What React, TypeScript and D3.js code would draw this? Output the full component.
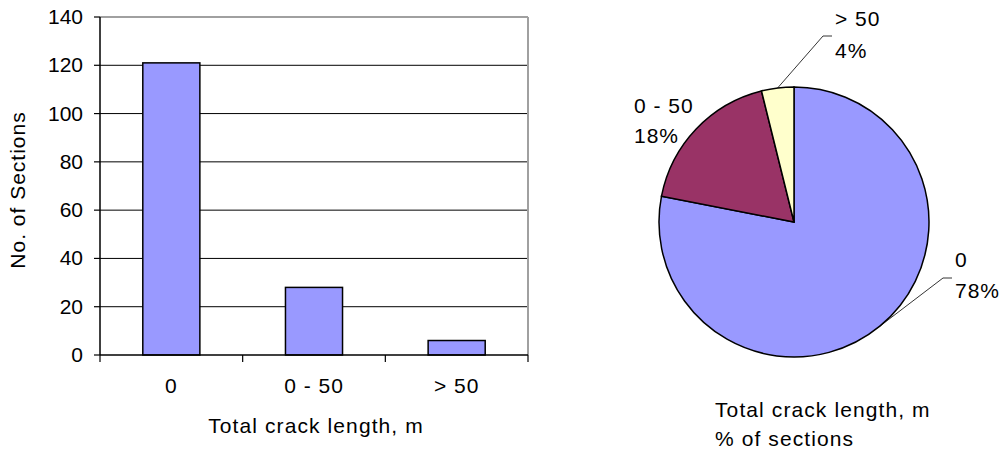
import React from 'react';
import * as d3 from 'd3';

const categories = ['0', '0 - 50', '> 50'];
const sectionCounts = [121, 28, 6];
const yTickValues = [0, 20, 40, 60, 80, 100, 120, 140];
const pieColors = ['#9999FF', '#993366', '#FFFFCC'];
const barColor = '#9999FF';
const xAxisTitle = 'Total crack length, m';
const yAxisTitle = 'No. of Sections';
const pieTitleLines = ['Total crack length, m', '% of sections'];

const FONT = '"Liberation Sans", Arial, Helvetica, sans-serif';
const FS = 21;

// layout
const plot = { left: 100, right: 528, top: 17, bottom: 355 };
const pieCenter = { x: 794, y: 222 };
const pieR = 135;
// label placement per slice (layout only): elbow point and text anchor
const pieLabelLayout = [
  { leader: true, elbow: [943, 278], end: [952, 278], tx: 955, ty1: 267, ty2: 298 },
  { leader: false, elbow: [0, 0], end: [0, 0], tx: 634, ty1: 113, ty2: 143 },
  { leader: true, elbow: [823, 36], end: [832, 36], tx: 835, ty1: 26, ty2: 58 },
];

export default function App() {
  const x = d3.scaleBand<string>().domain(categories).range([plot.left, plot.right]).padding(0);
  const y = d3.scaleLinear().domain([0, 140]).range([plot.bottom, plot.top]);
  const bw = x.bandwidth() * 0.4;

  const total = d3.sum(sectionCounts);
  const pie = d3.pie<number>().sort(null).startAngle(0).endAngle(2 * Math.PI)(sectionCounts);
  const arc = d3.arc<d3.PieArcDatum<number>>().innerRadius(0).outerRadius(pieR);

  const xTickPositions = [...categories.map((c) => x(c) as number), plot.right];

  return (
    <svg
      width={1007}
      height={460}
      style={{ position: 'absolute', left: 0, top: 0, background: '#fff' }}
      fontFamily={FONT}
      fontSize={FS}
    >
      <rect x={0} y={0} width={1007} height={460} fill="#fff" />
      {/* gridlines */}
      {yTickValues
        .filter((v) => v > 0 && v < 140)
        .map((v) => (
          <line key={'g' + v} x1={plot.left} x2={plot.right} y1={y(v)} y2={y(v)} stroke="#000" strokeWidth={1} />
        ))}
      {/* plot border top/right gray */}
      <line x1={plot.left} x2={plot.right} y1={y(140)} y2={y(140)} stroke="#a0a0a0" strokeWidth={2} />
      <line x1={plot.right} x2={plot.right} y1={y(140)} y2={plot.bottom} stroke="#a0a0a0" strokeWidth={2} />
      {/* bars */}
      {categories.map((c, i) => (
        <rect
          key={c}
          x={(x(c) as number) + (x.bandwidth() - bw) / 2}
          y={y(sectionCounts[i])}
          width={bw}
          height={plot.bottom - y(sectionCounts[i])}
          fill={barColor}
          stroke="#000"
          strokeWidth={1.5}
        />
      ))}
      {/* axes */}
      <line x1={plot.left} x2={plot.left} y1={plot.top} y2={plot.bottom} stroke="#000" strokeWidth={1.5} />
      <line x1={plot.left} x2={plot.right} y1={plot.bottom} y2={plot.bottom} stroke="#000" strokeWidth={1.5} />
      {yTickValues.map((v) => (
        <g key={'yt' + v}>
          <line x1={plot.left - 6} x2={plot.left} y1={y(v)} y2={y(v)} stroke="#000" strokeWidth={1.2} />
          <text x={83} y={y(v) + 7} textAnchor="end" fill="#000">
            {v}
          </text>
        </g>
      ))}
      {xTickPositions.map((p, i) => (
        <line key={'xt' + i} x1={p} x2={p} y1={plot.bottom} y2={plot.bottom + 7} stroke="#000" strokeWidth={1.2} />
      ))}
      {categories.map((c) => (
        <text
          key={'xl' + c}
          x={(x(c) as number) + x.bandwidth() / 2}
          y={393}
          textAnchor="middle"
          letterSpacing={1}
          fill="#000"
        >
          {c}
        </text>
      ))}
      <text x={(plot.left + plot.right) / 2 + 2} y={433} textAnchor="middle" letterSpacing={1.1} fill="#000">
        {xAxisTitle}
      </text>
      <text transform="translate(25,190) rotate(-90)" textAnchor="middle" letterSpacing={1} fill="#000">
        {yAxisTitle}
      </text>

      {/* pie */}
      <g transform={`translate(${pieCenter.x},${pieCenter.y})`}>
        {pie.map((d, i) => (
          <path key={'s' + i} d={arc(d) as string} fill={pieColors[i]} stroke="#000" strokeWidth={1.5} />
        ))}
      </g>
      {pie.map((d, i) => {
        const L = pieLabelLayout[i];
        const mid = (d.startAngle + d.endAngle) / 2;
        const ex = pieCenter.x + pieR * Math.sin(mid);
        const ey = pieCenter.y - pieR * Math.cos(mid);
        const pct = Math.round((d.value / total) * 100) + '%';
        return (
          <g key={'pl' + i}>
            {L.leader && (
              <polyline
                points={`${ex},${ey} ${L.elbow[0]},${L.elbow[1]} ${L.end[0]},${L.end[1]}`}
                fill="none"
                stroke="#000"
                strokeWidth={0.8}
              />
            )}
            <text x={L.tx} y={L.ty1} letterSpacing={1} fill="#000">
              {categories[i]}
            </text>
            <text x={L.tx} y={L.ty2} letterSpacing={1} fill="#000">
              {pct}
            </text>
          </g>
        );
      })}
      {pieTitleLines.map((t, i) => (
        <text key={'pt' + i} x={715} y={417 + i * 29} letterSpacing={1.1} fill="#000">
          {t}
        </text>
      ))}
    </svg>
  );
}
